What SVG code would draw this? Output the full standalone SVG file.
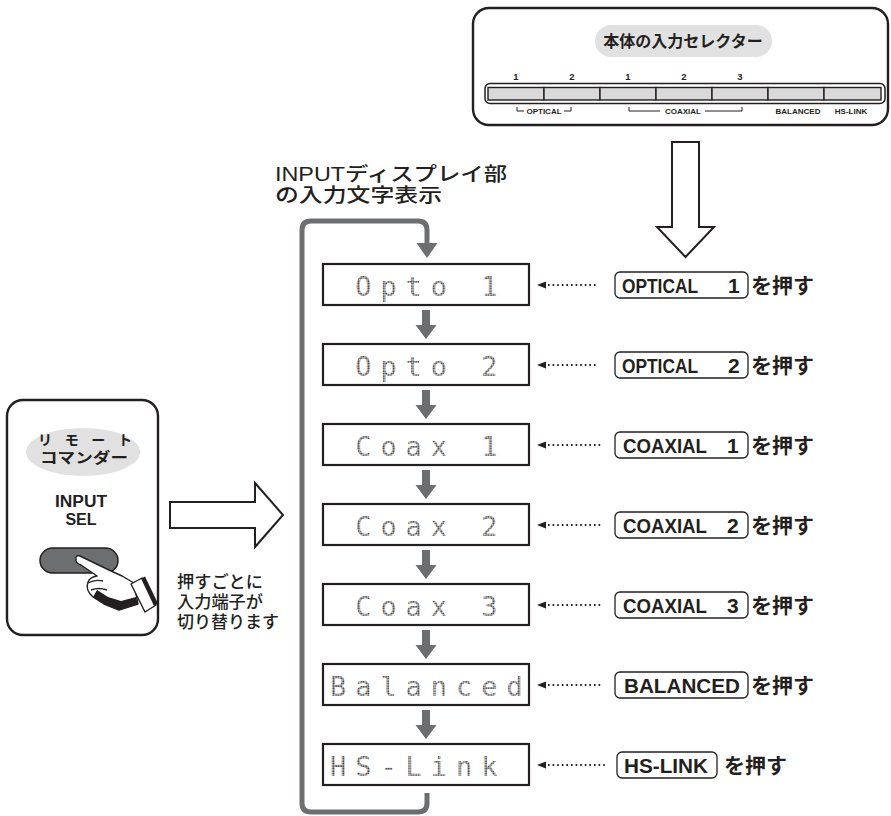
<svg xmlns="http://www.w3.org/2000/svg" width="891" height="816" viewBox="0 0 891 816">
  <style>
    .ink { fill: #231f20; }
    .jp { font-family: "Liberation Sans", "Noto Sans CJK JP", sans-serif; fill: #231f20; }
    .b { font-weight: bold; }
    .frame { fill: #fff; stroke: #231f20; stroke-width: 2.4; }
    .lcd { fill: #fff; stroke: #231f20; stroke-width: 2.2; }
    .lcdtext { font-family: "DejaVu Sans Mono", monospace; font-size: 27px; fill: url(#dots); }
    .key { fill: #fff; stroke: #231f20; stroke-width: 1.3; }
    .loop { fill: none; stroke: #6d6e70; stroke-width: 5; }
    .step { fill: #6d6e70; }
    .dotline { stroke: #231f20; stroke-width: 1.8; stroke-dasharray: 1.6 3; fill: none; }
    .hollow { fill: #fff; stroke: #231f20; stroke-width: 2; stroke-linejoin: miter; }
    .btn { fill: #d9d9d9; stroke: #231f20; stroke-width: 1.4; }
    .tick { stroke: #231f20; stroke-width: 1; fill: none; }
  </style>
  <defs>
    <pattern id="dots" width="2.5" height="2.5" patternUnits="userSpaceOnUse">
      <rect x="0.3" y="0.3" width="1.8" height="1.8" fill="#1e1e1e"/>
    </pattern>
  </defs>

  <!-- front panel input selector -->
  <g id="panel">
    <rect x="473" y="8" width="415" height="117" rx="16" class="frame"/>
    <rect x="595" y="25" width="177" height="32" rx="16" fill="#e1e1e1"/>
    <text x="683" y="47" text-anchor="middle" class="jp b" font-size="16">本体の入力セレクター</text>
    <g class="jp b" font-size="9.5" text-anchor="middle">
      <text x="516" y="80">1</text>
      <text x="572" y="80">2</text>
      <text x="628" y="80">1</text>
      <text x="684" y="80">2</text>
      <text x="740" y="80">3</text>
    </g>
    <rect x="485" y="83.5" width="400" height="20" rx="5" fill="#fff" stroke="#231f20" stroke-width="1.5"/>
    <rect x="488" y="87.5" width="56" height="12.5" class="btn"/>
    <rect x="544" y="87.5" width="56" height="12.5" class="btn"/>
    <rect x="600" y="87.5" width="56" height="12.5" class="btn"/>
    <rect x="656" y="87.5" width="56" height="12.5" class="btn"/>
    <rect x="712" y="87.5" width="56" height="12.5" class="btn"/>
    <rect x="768" y="87.5" width="56" height="12.5" class="btn"/>
    <rect x="824" y="87.5" width="57" height="12.5" class="btn"/>
    <path class="tick" d="M517,107 V111 H524 M564,111 H571 V107"/>
    <path class="tick" d="M629,107 V111 H660 M705,111 H742 V107"/>
    <g class="jp b" font-size="8" text-anchor="middle">
      <text x="544" y="114">OPTICAL</text>
      <text x="683" y="114">COAXIAL</text>
      <text x="798" y="114">BALANCED</text>
      <text x="851" y="114">HS-LINK</text>
    </g>
  </g>

  <!-- caption above the display column -->
  <g id="caption">
    <text x="275" y="181" class="jp" font-size="19.5" font-weight="500" textLength="232" lengthAdjust="spacingAndGlyphs">INPUTディスプレイ部</text>
    <text x="275" y="202" class="jp" font-size="19.5" font-weight="500" textLength="167" lengthAdjust="spacingAndGlyphs">の入力文字表示</text>
  </g>

  <!-- remote commander -->
  <g id="remote">
    <rect x="7" y="400" width="151" height="235" rx="16" class="frame"/>
    <ellipse cx="83" cy="452" rx="57" ry="24" fill="#e1e1e1"/>
    <text x="38" y="445" class="jp b" font-size="14" textLength="94">リ モ ー ト</text>
    <text x="40" y="463" class="jp b" font-size="14.5" textLength="88" lengthAdjust="spacingAndGlyphs">コマンダー</text>
    <text x="55" y="507" class="jp b" font-size="16" textLength="52" lengthAdjust="spacingAndGlyphs">INPUT</text>
    <text x="81" y="525" text-anchor="middle" class="jp b" font-size="16">SEL</text>
    <rect x="40" y="548" width="78" height="25" rx="12.5" fill="#6d6e70" stroke="#231f20" stroke-width="1.5"/>
    <!-- pointing hand -->
    <g id="hand" stroke="#231f20" stroke-width="1.4" stroke-linejoin="round">
      <path fill="#fff" d="M76,559 Q75,555 80,556 L109,570 L122,576 L134,583 L138,604 L119,610 L104,604 L93,597 Q85,590 88,582 Q90,577 97,576 L81,565 Q75,563 76,559 Z"/>
      <path fill="#231f20" stroke="none" d="M93,597 L104,604 L119,610 L138,604 L136,597 L121,601 L108,597 L97,590 Z"/>
      <path fill="none" d="M88,583 Q95,579 103,581 M91,590 Q99,587 107,590"/>
      <path fill="#fff" d="M131,584 L142,578 L156,605 L145,612 Z"/>
      <path fill="#231f20" stroke="none" d="M141,578.5 L145,576.5 L158,603.5 L154,606 Z"/>
    </g>
  </g>

  <!-- side note -->
  <g id="note" class="jp" font-size="16.5" font-weight="500">
    <text x="177" y="588" textLength="86" lengthAdjust="spacingAndGlyphs">押すごとに</text>
    <text x="177" y="608" textLength="86" lengthAdjust="spacingAndGlyphs">入力端子が</text>
    <text x="177" y="628" textLength="102" lengthAdjust="spacingAndGlyphs">切り替ります</text>
  </g>

  <!-- display states -->
  <g id="disp-opto1">
    <rect x="323" y="264" width="206" height="41" class="lcd"/>
    <text y="296" class="lcdtext" x="355.2 380.4 405.6 430.8 456 481.2">Opto 1</text>
  </g>
  <g id="disp-opto2">
    <rect x="323" y="344" width="206" height="41" class="lcd"/>
    <text y="376" class="lcdtext" x="355.2 380.4 405.6 430.8 456 481.2">Opto 2</text>
  </g>
  <g id="disp-coax1">
    <rect x="323" y="424" width="206" height="41" class="lcd"/>
    <text y="456" class="lcdtext" x="355.2 380.4 405.6 430.8 456 481.2">Coax 1</text>
  </g>
  <g id="disp-coax2">
    <rect x="323" y="504" width="206" height="41" class="lcd"/>
    <text y="536" class="lcdtext" x="355.2 380.4 405.6 430.8 456 481.2">Coax 2</text>
  </g>
  <g id="disp-coax3">
    <rect x="323" y="584" width="206" height="41" class="lcd"/>
    <text y="616" class="lcdtext" x="355.2 380.4 405.6 430.8 456 481.2">Coax 3</text>
  </g>
  <g id="disp-balanced">
    <rect x="323" y="664" width="206" height="41" class="lcd"/>
    <text y="696" class="lcdtext" x="330 355.2 380.4 405.6 430.8 456 481.2 506.4">Balanced</text>
  </g>
  <g id="disp-hslink">
    <rect x="323" y="744" width="206" height="41" class="lcd"/>
    <text y="776" class="lcdtext" x="330 355.2 380.4 405.6 430.8 456 481.2">HS-Link</text>
  </g>

  <!-- key labels -->
  <g id="key-optical1">
    <rect x="615" y="272" width="133" height="26" rx="5" class="key"/>
    <text y="293" class="jp b" font-size="21"><tspan x="622" textLength="76" lengthAdjust="spacingAndGlyphs">OPTICAL</tspan><tspan x="728">1</tspan></text>
    <text x="751" y="293" class="jp b" font-size="21">を押す</text>
  </g>
  <g id="key-optical2">
    <rect x="615" y="352" width="133" height="26" rx="5" class="key"/>
    <text y="373" class="jp b" font-size="21"><tspan x="622" textLength="76" lengthAdjust="spacingAndGlyphs">OPTICAL</tspan><tspan x="728">2</tspan></text>
    <text x="751" y="373" class="jp b" font-size="21">を押す</text>
  </g>
  <g id="key-coaxial1">
    <rect x="615" y="432" width="133" height="26" rx="5" class="key"/>
    <text y="453" class="jp b" font-size="21"><tspan x="623" textLength="84" lengthAdjust="spacingAndGlyphs">COAXIAL</tspan><tspan x="727">1</tspan></text>
    <text x="751" y="453" class="jp b" font-size="21">を押す</text>
  </g>
  <g id="key-coaxial2">
    <rect x="615" y="512" width="133" height="26" rx="5" class="key"/>
    <text y="533" class="jp b" font-size="21"><tspan x="623" textLength="84" lengthAdjust="spacingAndGlyphs">COAXIAL</tspan><tspan x="727">2</tspan></text>
    <text x="751" y="533" class="jp b" font-size="21">を押す</text>
  </g>
  <g id="key-coaxial3">
    <rect x="615" y="592" width="133" height="26" rx="5" class="key"/>
    <text y="613" class="jp b" font-size="21"><tspan x="623" textLength="84" lengthAdjust="spacingAndGlyphs">COAXIAL</tspan><tspan x="727">3</tspan></text>
    <text x="751" y="613" class="jp b" font-size="21">を押す</text>
  </g>
  <g id="key-balanced">
    <rect x="615" y="672" width="133" height="26" rx="5" class="key"/>
    <text x="624" y="693" class="jp b" font-size="21" textLength="116" lengthAdjust="spacingAndGlyphs">BALANCED</text>
    <text x="751" y="693" class="jp b" font-size="21">を押す</text>
  </g>
  <g id="key-hslink">
    <rect x="617" y="752" width="100" height="26" rx="5" class="key"/>
    <text x="624" y="773" class="jp b" font-size="21" textLength="84" lengthAdjust="spacingAndGlyphs">HS-LINK</text>
    <text x="724" y="773" class="jp b" font-size="21">を押す</text>
  </g>

  <!-- connectors -->
  <g id="connectors">
    <!-- cycle loop back to the first state -->
    <path class="loop" d="M427,793 V803 Q427,812 418,812 H311 Q302,812 302,803 V230 Q302,221 311,221 H418 Q427,221 427,230 V244"/>
    <polygon class="step" points="416.5,243 437.5,243 427,258"/>
    <!-- step arrows between states -->
    <g class="step">
      <path d="M422,310 H430 V325 H436.5 L426,339 L415.5,325 H422 Z"/>
      <path d="M422,390 H430 V405 H436.5 L426,419 L415.5,405 H422 Z"/>
      <path d="M422,470 H430 V485 H436.5 L426,499 L415.5,485 H422 Z"/>
      <path d="M422,550 H430 V565 H436.5 L426,579 L415.5,565 H422 Z"/>
      <path d="M422,630 H430 V645 H436.5 L426,659 L415.5,645 H422 Z"/>
      <path d="M422,710 H430 V725 H436.5 L426,739 L415.5,725 H422 Z"/>
    </g>
    <!-- dotted pointers from each key -->
    <g>
      <line class="dotline" x1="548" y1="285" x2="598" y2="285"/>
      <polygon class="ink" points="537,285 546,281.5 546,288.5"/>
      <line class="dotline" x1="548" y1="365" x2="598" y2="365"/>
      <polygon class="ink" points="537,365 546,361.5 546,368.5"/>
      <line class="dotline" x1="548" y1="445" x2="601" y2="445"/>
      <polygon class="ink" points="537,445 546,441.5 546,448.5"/>
      <line class="dotline" x1="548" y1="525" x2="601" y2="525"/>
      <polygon class="ink" points="537,525 546,521.5 546,528.5"/>
      <line class="dotline" x1="548" y1="605" x2="601" y2="605"/>
      <polygon class="ink" points="537,605 546,601.5 546,608.5"/>
      <line class="dotline" x1="548" y1="685" x2="601" y2="685"/>
      <polygon class="ink" points="537,685 546,681.5 546,688.5"/>
      <line class="dotline" x1="548" y1="765" x2="607" y2="765"/>
      <polygon class="ink" points="537,765 546,761.5 546,768.5"/>
    </g>
    <!-- hollow arrows -->
    <polygon class="hollow" points="672,142 699,142 699,227 714,227 685.5,257 657,227 672,227"/>
    <polygon class="hollow" points="170,502 255,502 255,483 283,515 255,547 255,528 170,528"/>
  </g>
</svg>
